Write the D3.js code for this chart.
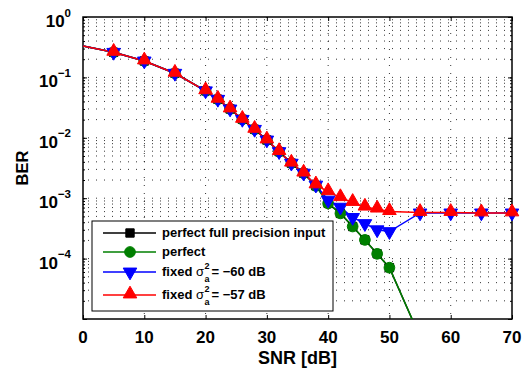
<!DOCTYPE html>
<html><head><meta charset="utf-8">
<script src="https://cdn.jsdelivr.net/npm/d3@7"></script>
<style>body{margin:0;background:#fff}svg{display:block;font-family:"Liberation Sans",Arial,sans-serif}</style>
</head><body><svg id="c" width="531" height="373"></svg>
<script>
const snr = [0,5,10,15,20,22,24,26,28,30,32,34,36,38,40,42,44,46,48,50,55,60,65,70];
const berFull = [0.33,0.26,0.187,0.117,0.060,0.0434,0.030,0.0202,0.0138,0.0092,0.0059,0.0038,0.0026,0.0016,0.00082,0.00056,0.00034,0.000204,0.00012,0.0000708,0.000005];
const berPerfect = [0.33,0.26,0.187,0.117,0.060,0.0434,0.030,0.0202,0.0138,0.0092,0.0059,0.0038,0.0026,0.0016,0.00082,0.00056,0.00034,0.000204,0.00012,0.0000708,0.000005];
const berFixed60 = [0.33,0.26,0.187,0.117,0.060,0.0434,0.030,0.0202,0.0138,0.0092,0.0059,0.0038,0.0026,0.00165,0.00093,0.00071,0.00048,0.00038,0.00030,0.00028,0.00057,0.00057,0.00057,0.00057];
const berFixed57 = [0.33,0.26,0.187,0.117,0.060,0.0434,0.030,0.0202,0.0138,0.0092,0.0059,0.0038,0.0026,0.00166,0.00128,0.00102,0.00085,0.00071,0.00066,0.00060,0.00058,0.00058,0.00057,0.00057];
const xTicks = [0,10,20,30,40,50,60,70];
const yTickExps = [0,-1,-2,-3,-4];

const svg = d3.select("#c");
const L=83, R=512, T=17, B=319;
const x = d3.scaleLinear().domain([0,70]).range([L,R]);
const y = d3.scaleLog().domain([1e-5,1]).range([B,T]);

svg.append("defs").append("clipPath").attr("id","clip").append("rect")
  .attr("x",L).attr("y",T).attr("width",R-L).attr("height",B-T);

// grid
const g = svg.append("g");
const minorY = [];
for (let e=-5;e<0;e++) for (let m=1;m<10;m++) minorY.push(m*Math.pow(10,e));
minorY.push(1);
g.selectAll(".hg").data(minorY.filter(v=>v>1e-5&&v<1)).join("line")
  .attr("x1",L).attr("x2",R).attr("y1",d=>y(d)).attr("y2",d=>y(d))
  .attr("stroke","#000").attr("stroke-width",0.8).attr("stroke-dasharray","1,7")
  .attr("stroke-dashoffset",-5);
g.selectAll(".vg").data(xTicks.slice(1,-1)).join("line")
  .attr("x1",d=>x(d)).attr("x2",d=>x(d)).attr("y1",T).attr("y2",B)
  .attr("stroke","#000").attr("stroke-width",0.8).attr("stroke-dasharray","1,7");

// axes box and ticks
const ax = svg.append("g");
ax.append("g").attr("transform",`translate(0,${B})`)
  .call(d3.axisBottom(x).tickValues(xTicks).tickSize(-4).tickFormat(""));
ax.append("g").attr("transform",`translate(0,${T})`)
  .call(d3.axisTop(x).tickValues(xTicks).tickSize(-4).tickFormat(""));
const majY = yTickExps.map(e=>Math.pow(10,e)).concat([1e-5]);
ax.append("g").attr("transform",`translate(${L},0)`)
  .call(d3.axisLeft(y).tickValues(majY).tickSize(-4).tickFormat(""));
ax.append("g").attr("transform",`translate(${R},0)`)
  .call(d3.axisRight(y).tickValues(majY).tickSize(-4).tickFormat(""));
ax.append("g").attr("transform",`translate(${L},0)`)
  .call(d3.axisLeft(y).tickValues(minorY).tickSize(-2).tickFormat(""));
ax.append("g").attr("transform",`translate(${R},0)`)
  .call(d3.axisRight(y).tickValues(minorY).tickSize(-2).tickFormat(""));
ax.selectAll(".domain").remove();
ax.selectAll("line").attr("stroke","#000").attr("stroke-width",1);
svg.append("rect").attr("x",L).attr("y",T).attr("width",R-L).attr("height",B-T)
  .attr("fill","none").attr("stroke","#000").attr("stroke-width",1.5);

// tick labels
svg.selectAll(".xt").data(xTicks).join("text").attr("x",d=>x(d)).attr("y",343)
  .attr("text-anchor","middle").attr("font-size",17).attr("font-weight","bold").text(d=>d);
yTickExps.forEach(e=>{
  const t = svg.append("text").attr("x",71).attr("y",y(Math.pow(10,e))+10)
    .attr("text-anchor","end").attr("font-size",17).attr("font-weight","bold");
  t.append("tspan").text("10");
  t.append("tspan").attr("dy",-10.5).attr("font-size",11.5).text(e===0?"0":"\u2212"+(-e));
});
svg.append("text").attr("x",x(35)).attr("y",364).attr("text-anchor","middle")
  .attr("font-size",18).attr("font-weight","bold").text("SNR [dB]");
svg.append("text").attr("transform",`translate(28,${(T+B)/2}) rotate(-90)`)
  .attr("text-anchor","middle").attr("font-size",16.5).attr("font-weight","bold").text("BER");

// series
const series = [
  {name:"full", vals:berFull, color:"#000", marker:"square"},
  {name:"perfect", vals:berPerfect, color:"#007f00", marker:"circle"},
  {name:"f60", vals:berFixed60, color:"#0000ff", marker:"down"},
  {name:"f57", vals:berFixed57, color:"#ff0000", marker:"up"}
];
const line = d3.line().x(d=>x(d[0])).y(d=>y(d[1]));
const plot = svg.append("g").attr("clip-path","url(#clip)");
const markerSym = {square:d3.symbolSquare, circle:d3.symbolCircle, down:d3.symbolTriangle, up:d3.symbolTriangle};
const markerSize = {square:70, circle:90, down:80, up:80};
function markerTf(m){ return m==="down"?"rotate(180)":(m==="up"?"translate(0,-1)":""); }
series.forEach(s=>{
  const pts = s.vals.map((v,i)=>[snr[i],v]);
  plot.append("path").datum(pts).attr("d",line).attr("fill","none")
    .attr("stroke",s.color).attr("stroke-width",1.5);
  const mk = svg.append("g");
  pts.slice(1).filter(p=>p[1]>=1e-5).forEach(p=>{
    const gg = mk.append("g").attr("transform",`translate(${x(p[0])},${y(p[1])})`);
    gg.append("path").attr("d",d3.symbol(markerSym[s.marker], markerSize[s.marker])())
      .attr("fill",s.color).attr("stroke",s.color).attr("stroke-width",1)
      .attr("transform",markerTf(s.marker));
  });
});

// legend
const lg = svg.append("g");
lg.append("rect").attr("x",92).attr("y",221).attr("width",241).attr("height",90)
  .attr("fill","#fff").attr("stroke","#000").attr("stroke-width",1);
const legY = [233,252,272,295];
const labels = ["perfect full precision input","perfect","fixed","fixed"];
const sig = [null,null,"\u221260 dB","\u221257 dB"];
series.forEach((s,i)=>{
  const yy = legY[i];
  lg.append("line").attr("x1",103).attr("x2",156).attr("y1",yy).attr("y2",yy)
    .attr("stroke",s.color).attr("stroke-width",1.5);
  const gg = lg.append("g").attr("transform",`translate(130,${yy})`);
  gg.append("path").attr("d",d3.symbol(markerSym[s.marker], markerSize[s.marker])())
    .attr("fill",s.color).attr("stroke",s.color)
    .attr("transform",markerTf(s.marker));
  const t = lg.append("text").attr("x",162).attr("y",yy+4).attr("font-size",13).attr("font-weight","bold");
  if (!sig[i]) { t.text(labels[i]); }
  else {
    t.text(labels[i]);
    const w = t.node().getComputedTextLength() + 3.6;
    const sg = lg.append("text").attr("x",162+w).attr("y",yy+4).attr("font-size",13).text("\u03c3");
    const ws = sg.node().getComputedTextLength();
    const tx = 162+w+ws+0.5;
    lg.append("text").attr("x",tx).attr("y",yy-3).attr("font-size",9).attr("font-weight","bold").text("2");
    lg.append("text").attr("x",tx).attr("y",yy+10).attr("font-size",9).attr("font-weight","bold").text("a");
    lg.append("text").attr("x",tx+7).attr("y",yy+4).attr("font-size",13).attr("font-weight","bold").text("= "+sig[i]);
  }
});
</script></body></html>
